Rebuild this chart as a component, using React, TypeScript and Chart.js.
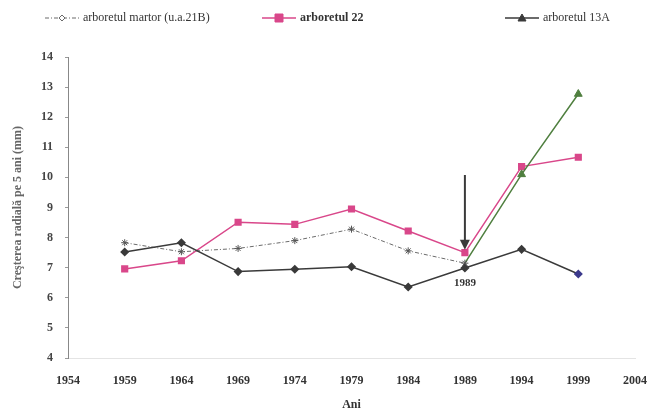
import React, { useEffect, useRef } from "react";
import { Chart, registerables } from "chart.js";

Chart.register(...registerables);

const years = [1959, 1964, 1969, 1974, 1979, 1984, 1989, 1994, 1999];
const martorValues = [7.83, 7.53, 7.64, 7.9, 8.28, 7.56, 7.15, 10.1, 12.77];
const arb22Values = [6.96, 7.23, 8.51, 8.44, 8.95, 8.22, 7.5, 10.36, 10.67];
const arb13AValues = [7.52, 7.83, 6.87, 6.95, 7.03, 6.36, 6.99, 7.61, 6.79];
const seriesNames = ["arboretul martor (u.a.21B)", "arboretul 22", "arboretul 13A"];
const yTicks = [4, 5, 6, 7, 8, 9, 10, 11, 12, 13, 14];
const xTickStart = 1954;
const xTickEnd = 2004;
const annotYear = 1989;
const annotLabel = "1989";
const yTitle = "Creşterea radială pe 5 ani (mm)";
const xTitle = "Ani";

const FONT = "'Liberation Serif', 'DejaVu Serif', serif";
const GREY = "#6a6a6a";
const GREEN = "#4f7f3f";
const PINK = "#d9478a";
const DARK = "#3a3a3a";
const PURPLE = "#3c3a8c";

const overlayPlugin = {
  id: "overlay",
  afterDraw(chart: any) {
    const { ctx, scales } = chart;
    const x = scales.x;
    const y = scales.y;
    ctx.save();
    // arrow
    const ax = x.getPixelForValue(annotYear);
    const y0 = y.getPixelForValue(10.08);
    const y1 = y.getPixelForValue(7.6);
    ctx.strokeStyle = "#3a3a3a";
    ctx.fillStyle = "#3a3a3a";
    ctx.lineWidth = 2;
    ctx.beginPath();
    ctx.moveTo(ax, y0);
    ctx.lineTo(ax, y1 - 8);
    ctx.stroke();
    ctx.beginPath();
    ctx.moveTo(ax - 5, y1 - 10);
    ctx.lineTo(ax + 5, y1 - 10);
    ctx.lineTo(ax, y1);
    ctx.closePath();
    ctx.fill();
    // label
    ctx.font = `bold 11px ${FONT}`;
    ctx.fillStyle = "#333";
    ctx.textAlign = "center";
    ctx.textBaseline = "middle";
    ctx.fillText(annotLabel, ax, y.getPixelForValue(6.48));

    // legend
    const items = [
      { x: 45, color: GREY, dash: [4, 2, 1, 2], mcolor: GREY, style: "rectRot", bold: false },
      { x: 262, color: PINK, dash: [], mcolor: PINK, style: "rect", bold: true },
      { x: 505, color: DARK, dash: [], mcolor: DARK, style: "triangle", bold: false },
    ];
    const ly = 18;
    items.forEach((it, i) => {
      ctx.strokeStyle = it.color;
      ctx.lineWidth = i === 0 ? 1 : 1.5;
      ctx.setLineDash(it.dash);
      ctx.beginPath();
      ctx.moveTo(it.x, ly);
      ctx.lineTo(it.x + 34, ly);
      ctx.stroke();
      ctx.setLineDash([]);
      ctx.fillStyle = i === 0 ? "#fff" : it.mcolor;
      ctx.strokeStyle = it.mcolor;
      ctx.lineWidth = 1;
      const cx = it.x + 17;
      ctx.beginPath();
      if (it.style === "rectRot") {
        ctx.moveTo(cx, ly - 3);
        ctx.lineTo(cx + 3, ly);
        ctx.lineTo(cx, ly + 3);
        ctx.lineTo(cx - 3, ly);
        ctx.closePath();
      } else if (it.style === "rect") {
        ctx.rect(cx - 4, ly - 4, 8, 8);
      } else {
        ctx.moveTo(cx, ly - 4);
        ctx.lineTo(cx + 4, ly + 3);
        ctx.lineTo(cx - 4, ly + 3);
        ctx.closePath();
      }
      ctx.fill();
      ctx.stroke();
      ctx.font = `${it.bold ? "bold " : ""}12px ${FONT}`;
      ctx.fillStyle = "#333";
      ctx.textAlign = "left";
      ctx.textBaseline = "middle";
      ctx.fillText(seriesNames[i], it.x + 38, ly);
    });
    ctx.restore();
  },
};

export default function App() {
  const ref = useRef<HTMLCanvasElement | null>(null);
  useEffect(() => {
    if (!ref.current) return;
    const toPts = (vals: number[]) => years.map((yr, i) => ({ x: yr, y: vals[i] }));
    const chart = new Chart(ref.current, {
      type: "line",
      data: {
        datasets: [
          {
            label: seriesNames[2],
            data: toPts(arb13AValues),
            borderColor: DARK,
            borderWidth: 1.5,
            pointStyle: "rectRot",
            pointRadius: 3.5,
            pointBackgroundColor: arb13AValues.map((_, i) => (i === arb13AValues.length - 1 ? PURPLE : DARK)),
            pointBorderColor: arb13AValues.map((_, i) => (i === arb13AValues.length - 1 ? PURPLE : DARK)),
            tension: 0,
          },
          {
            label: seriesNames[0],
            data: toPts(martorValues),
            borderColor: GREY,
            borderWidth: 1,
            borderDash: [4, 2, 1, 2],
            segment: {
              borderColor: (c: any) => (c.p0DataIndex >= 6 ? GREEN : GREY),
              borderDash: (c: any) => (c.p0DataIndex >= 6 ? [] : [4, 2, 1, 2]),
              borderWidth: (c: any) => (c.p0DataIndex >= 6 ? 1.5 : 1),
            } as any,
            pointStyle: martorValues.map((_, i) => (i >= 7 ? "triangle" : "star")) as any,
            pointRadius: martorValues.map((_, i) => (i >= 7 ? 4.5 : 3.5)),
            pointBackgroundColor: martorValues.map((_, i) => (i >= 7 ? GREEN : "#7a8a7a")),
            pointBorderColor: martorValues.map((_, i) => (i >= 7 ? GREEN : "#555")),
            pointBorderWidth: 1,
            tension: 0,
          },
          {
            label: seriesNames[1],
            data: toPts(arb22Values),
            borderColor: PINK,
            borderWidth: 1.5,
            pointStyle: "rect",
            pointRadius: 4,
            pointBackgroundColor: PINK,
            pointBorderColor: PINK,
            tension: 0,
          },
        ],
      },
      options: {
        animation: false,
        responsive: false,
        maintainAspectRatio: false,
        layout: { padding: { left: 0, right: 0, top: 57, bottom: 0 } },
        plugins: { legend: { display: false }, tooltip: { enabled: false } },
        scales: {
          x: {
            type: "linear",
            min: xTickStart,
            max: xTickEnd,
            afterBuildTicks: (s: any) => {
              const t = [];
              for (let v = xTickStart; v <= xTickEnd; v += 5) t.push({ value: v });
              s.ticks = t;
            },
            afterFit: (s: any) => {
              s.height = 54;
              s.paddingRight = 13;
              s.paddingLeft = 0;
            },
            ticks: {
              callback: (v: any) => String(v),
              font: { family: FONT, size: 12, weight: "bold" },
              color: "#333",
              padding: 16,
              maxRotation: 0,
              autoSkip: false,
            },
            grid: { drawOnChartArea: false, drawTicks: false },
            border: { color: "#e4e4e4", width: 1 },
            title: {
              display: true,
              text: xTitle,
              font: { family: FONT, size: 12, weight: "bold" },
              color: "#333",
              padding: { top: 4, bottom: 0 },
            },
          },
          y: {
            type: "linear",
            min: yTicks[0],
            max: yTicks[yTicks.length - 1],
            afterBuildTicks: (s: any) => {
              s.ticks = yTicks.map((v) => ({ value: v }));
            },
            afterFit: (s: any) => {
              s.width = 68;
            },
            ticks: {
              font: { family: FONT, size: 12, weight: "bold" },
              color: "#444",
              padding: 12,
            },
            grid: { drawOnChartArea: false, drawTicks: true, tickLength: 3, color: "#999" },
            border: { color: "#888", width: 1 },
            title: {
              display: true,
              text: yTitle,
              font: { family: FONT, size: 12, weight: "bold" },
              color: "#666",
              padding: { top: 11, bottom: 6 },
            },
          },
        },
      },
      plugins: [overlayPlugin],
    });
    return () => chart.destroy();
  }, []);
  return (
    <div style={{ position: "fixed", left: 0, top: 0, width: 648, height: 412, background: "#fff" }}>
      <canvas ref={ref} width={648} height={412} style={{ display: "block" }} />
    </div>
  );
}
